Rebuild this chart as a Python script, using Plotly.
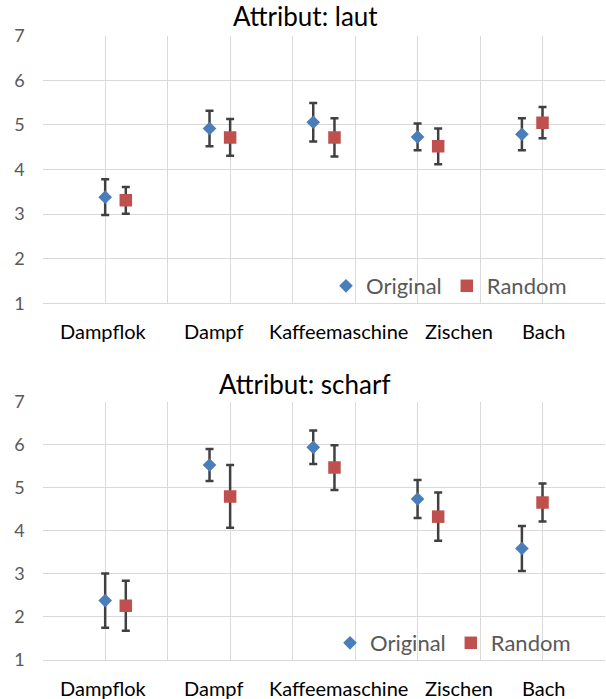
import plotly.graph_objects as go

# Positions along the x axis (Original at the category, Random shifted right)
orig_x = [1.0, 2.67, 4.33, 6.0, 7.67]
rand_x = [1.33, 3.0, 4.67, 6.33, 8.0]
categories = ["Dampflok", "Dampf", "Kaffeemaschine", "Zischen", "Bach"]
label_x = [0.98, 2.74, 4.73, 6.67, 8.01]

# Attribut: laut
laut_orig = [3.38, 4.92, 5.06, 4.73, 4.79]
laut_orig_err = [0.40, 0.40, 0.43, 0.30, 0.36]
laut_rand = [3.31, 4.72, 4.72, 4.52, 5.05]
laut_rand_err = [0.30, 0.41, 0.43, 0.40, 0.35]

# Attribut: scharf
scharf_orig = [2.38, 5.53, 5.94, 4.74, 3.59]
scharf_orig_err = [0.63, 0.37, 0.39, 0.44, 0.52]
scharf_rand = [2.26, 4.80, 5.47, 4.33, 4.66]
scharf_rand_err = [0.58, 0.73, 0.52, 0.56, 0.44]

BLUE = "#4A7EBB"
RED = "#C0504D"
ERR = "#404040"
GRID = "#D9D9D9"
TXT = "#595959"
FONT = "Lato"

fig = go.Figure()

panels = [
    ("x", "y", "legend", laut_orig, laut_orig_err, laut_rand, laut_rand_err),
    ("x2", "y2", "legend2", scharf_orig, scharf_orig_err, scharf_rand, scharf_rand_err),
]
for xa, ya, leg, o, oe, r, re_ in panels:
    fig.add_trace(go.Scatter(
        x=orig_x, y=o, mode="markers", name="Original", xaxis=xa, yaxis=ya, legend=leg,
        marker=dict(symbol="diamond", size=10.5, color=BLUE),
        error_y=dict(type="data", array=oe, visible=True, color=ERR, thickness=2.5, width=4),
    ))
    fig.add_trace(go.Scatter(
        x=rand_x, y=r, mode="markers", name="Random", xaxis=xa, yaxis=ya, legend=leg,
        marker=dict(symbol="square", size=12.5, color=RED),
        error_y=dict(type="data", array=re_, visible=True, color=ERR, thickness=2.5, width=4),
    ))

xdom = [42.7 / 606, 605 / 606]
top_dom = [1 - 303.3 / 699, 1 - 35.7 / 699]
bot_dom = [1 - 660 / 699, 1 - 401.7 / 699]

xax = dict(range=[0, 9], dtick=1, showgrid=True, gridcolor=GRID, gridwidth=1,
           showticklabels=False, zeroline=False, showline=True, linecolor=GRID,
           mirror=False, ticks="", domain=xdom, fixedrange=True, automargin=False)
yax = dict(range=[1, 7], dtick=1, showgrid=True, gridcolor=GRID, gridwidth=1,
           zeroline=False, showline=False, ticks="", automargin=False,
           tickfont=dict(family=FONT, size=18, color=TXT), ticklabelstandoff=17)

legend_style = dict(orientation="h", xanchor="left", yanchor="middle",
                    font=dict(family=FONT, size=22, color=TXT),
                    bgcolor="rgba(0,0,0,0)", itemwidth=30, tracegroupgap=0)

annotations = []
for title, ypix in [("Attribut: laut", 16), ("Attribut: scharf", 384)]:
    annotations.append(dict(text=title, x=305 / 606, y=1 - ypix / 699, xref="paper", yref="paper",
                            showarrow=False, xanchor="center", yanchor="middle",
                            font=dict(family=FONT, size=26, color="#000000")))
for xa, ypix in [("x", 331), ("x2", 688)]:
    for name, lx in zip(categories, label_x):
        annotations.append(dict(text=name, x=lx, y=1 - ypix / 699, xref=xa, yref="paper",
                                showarrow=False, xanchor="center", yanchor="middle",
                                font=dict(family=FONT, size=20, color="#000000")))

fig.update_layout(
    width=606, height=699,
    margin=dict(l=0, r=0, t=0, b=0, autoexpand=False),
    paper_bgcolor="white", plot_bgcolor="white",
    xaxis=dict(xax, anchor="y"),
    yaxis=dict(yax, domain=top_dom, anchor="x"),
    xaxis2=dict(xax, anchor="y2"),
    yaxis2=dict(yax, domain=bot_dom, anchor="x2"),
    legend=dict(legend_style, x=326 / 606, y=1 - 286 / 699),
    legend2=dict(legend_style, x=330 / 606, y=1 - 643 / 699),
    annotations=annotations,
    showlegend=True,
)

fig.write_html("out.html")
